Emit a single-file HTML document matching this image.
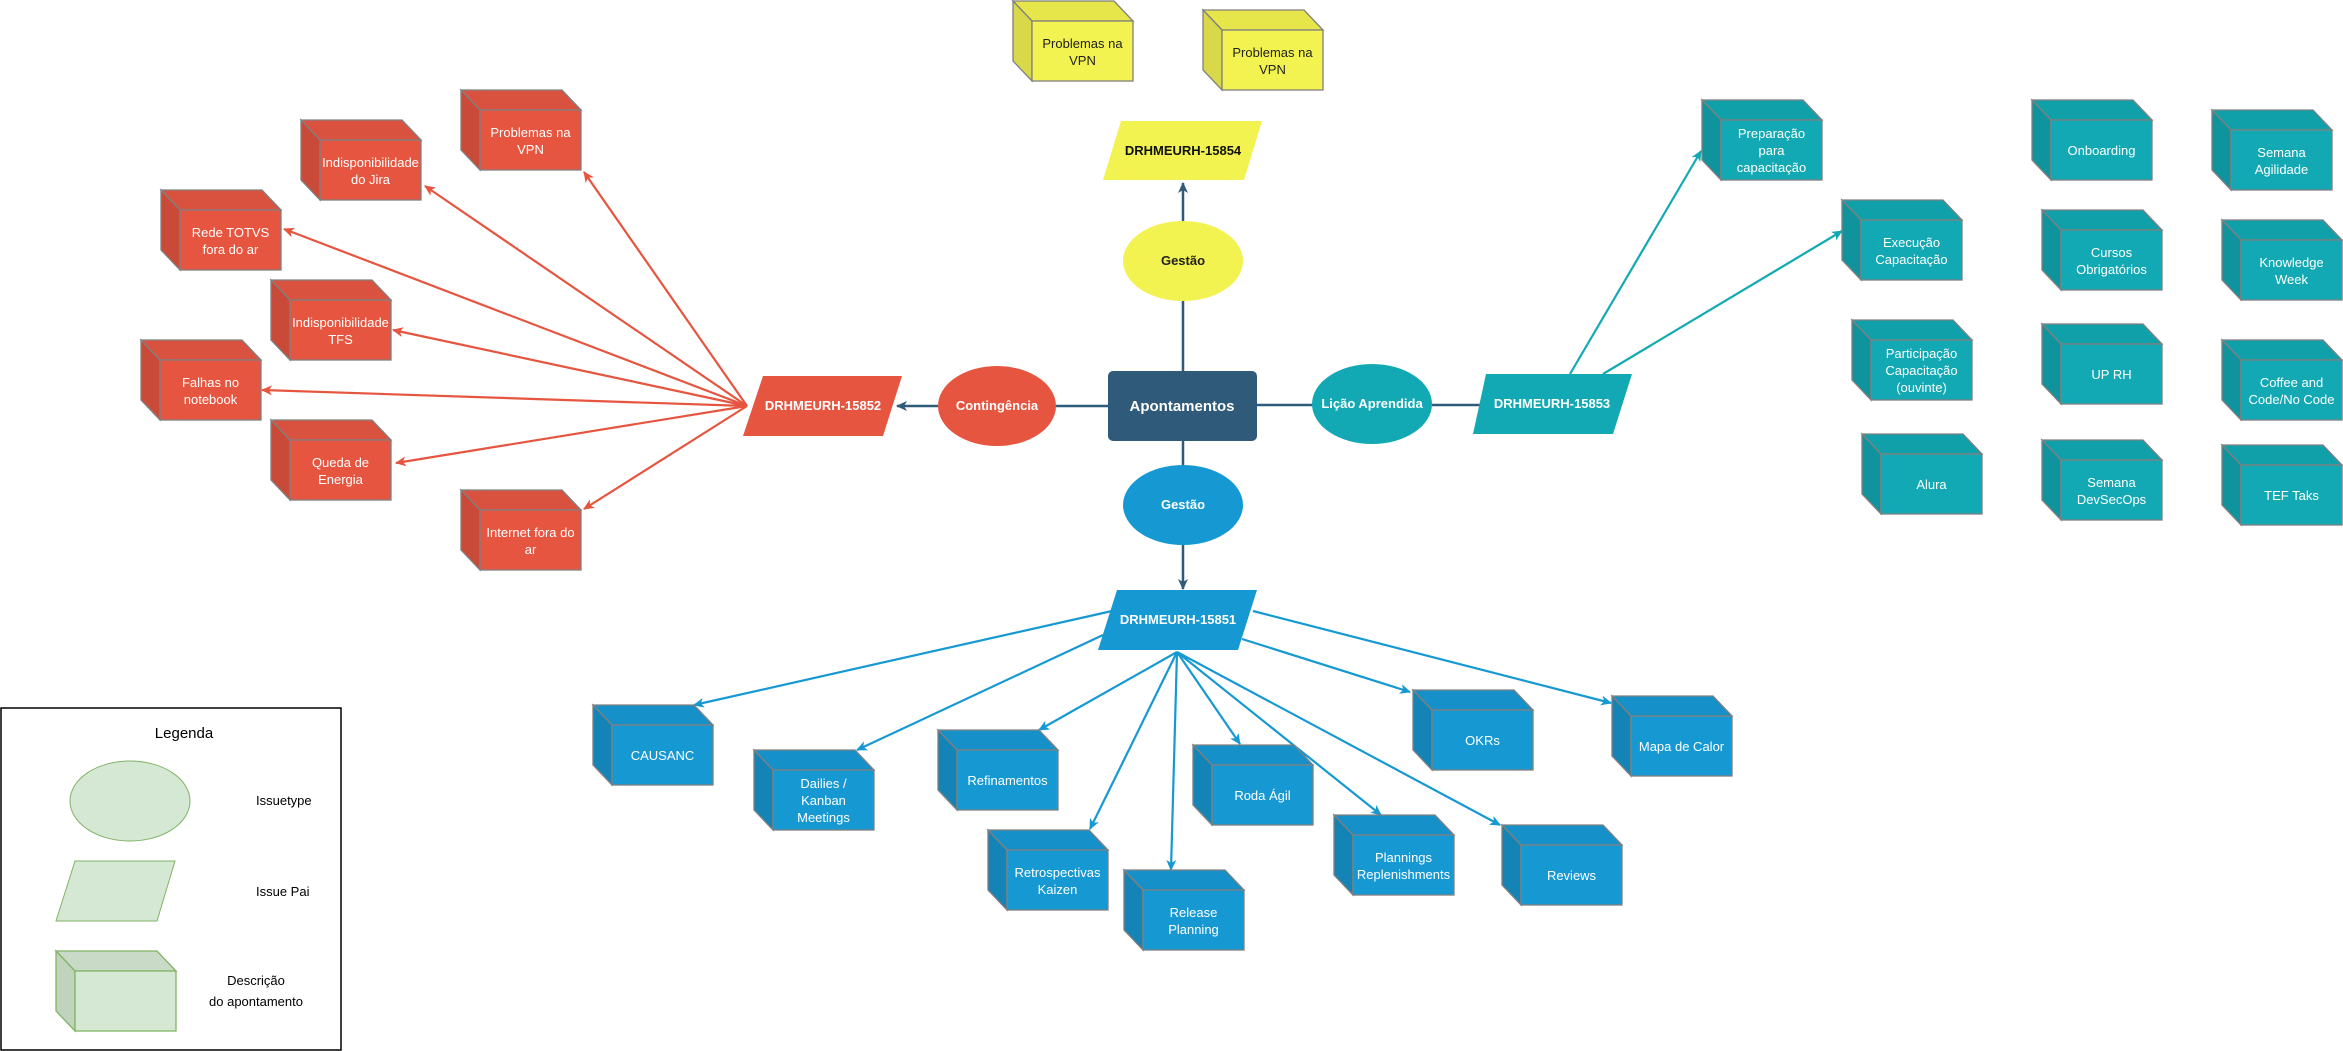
<!DOCTYPE html>
<html><head><meta charset="utf-8"><style>
html,body{margin:0;padding:0;background:#fff;}
svg{display:block;font-family:"Liberation Sans",Arial,sans-serif;}
.r .t{fill:#d9523f}.r .s{fill:#c94a39}.r .f{fill:#e6553f}
.tl .t{fill:#10a0a9}.tl .s{fill:#0f939c}.tl .f{fill:#12a9b4}
.b .t{fill:#1590c8}.b .s{fill:#1484b7}.b .f{fill:#1699d3}
.y .t{fill:#e6e64a}.y .s{fill:#d8d84a}.y .f{fill:#f2f250}
.g .t{fill:#c9dbc7}.g .s{fill:#bfd3bd}.g .f{fill:#d5e8d4}
.c polygon,.c rect{stroke:#808080;stroke-width:1.3}
.g polygon,.g rect{stroke:#82b366}
.c text{font-size:13px;fill:#fff;text-anchor:middle}
.y text{fill:#222}
.g text{fill:#000}
</style></head><body>
<svg width="2343" height="1051" viewBox="0 0 2343 1051" xmlns="http://www.w3.org/2000/svg">
<defs>
<symbol id="cube" overflow="visible"></symbol>
<marker id="ar" markerWidth="12" markerHeight="10" refX="10" refY="5" orient="auto" markerUnits="userSpaceOnUse"><path d="M0,0 L11,5 L0,10 L3,5 z" fill="#e6553f"/></marker>
<marker id="at" markerWidth="12" markerHeight="10" refX="10" refY="5" orient="auto" markerUnits="userSpaceOnUse"><path d="M0,0 L11,5 L0,10 L3,5 z" fill="#12a9b4"/></marker>
<marker id="ab" markerWidth="12" markerHeight="10" refX="10" refY="5" orient="auto" markerUnits="userSpaceOnUse"><path d="M0,0 L11,5 L0,10 L3,5 z" fill="#1699d3"/></marker>
<marker id="ad" markerWidth="12" markerHeight="10" refX="10" refY="5" orient="auto" markerUnits="userSpaceOnUse"><path d="M0,0 L11,5 L0,10 L3,5 z" fill="#2f5a7a"/></marker>
</defs>

<!-- dark connectors -->
<g stroke="#2f5a7a" stroke-width="2.5" fill="none">
<line x1="1183" y1="221" x2="1183" y2="183" marker-end="url(#ad)"/>
<line x1="1183" y1="300" x2="1183" y2="371"/>
<line x1="1108" y1="406" x2="1056" y2="406"/>
<line x1="938" y1="406" x2="897" y2="406" marker-end="url(#ad)"/>
<line x1="1257" y1="405" x2="1313" y2="405"/>
<line x1="1432" y1="405" x2="1480" y2="405"/>
<line x1="1183" y1="441" x2="1183" y2="465"/>
<line x1="1183" y1="544" x2="1183" y2="589" marker-end="url(#ad)"/>
</g>

<!-- red connectors -->
<g stroke="#e6553f" stroke-width="2.2" fill="none">
<line x1="747" y1="406" x2="584" y2="172" marker-end="url(#ar)"/>
<line x1="747" y1="406" x2="425" y2="186" marker-end="url(#ar)"/>
<line x1="747" y1="406" x2="284" y2="229" marker-end="url(#ar)"/>
<line x1="747" y1="406" x2="393" y2="330" marker-end="url(#ar)"/>
<line x1="747" y1="406" x2="262" y2="390" marker-end="url(#ar)"/>
<line x1="747" y1="406" x2="396" y2="463" marker-end="url(#ar)"/>
<line x1="747" y1="406" x2="584" y2="509" marker-end="url(#ar)"/>
</g>
<!-- teal connectors -->
<g stroke="#12a9b4" stroke-width="2.2" fill="none">
<line x1="1570" y1="374" x2="1701" y2="151" marker-end="url(#at)"/>
<line x1="1603" y1="374" x2="1842" y2="231" marker-end="url(#at)"/>
</g>
<!-- blue connectors -->
<g stroke="#1699d3" stroke-width="2.2" fill="none">
<line x1="1112" y1="611" x2="694" y2="705" marker-end="url(#ab)"/>
<line x1="1103" y1="635" x2="857" y2="750" marker-end="url(#ab)"/>
<line x1="1177" y1="652" x2="1039" y2="730" marker-end="url(#ab)"/>
<line x1="1177" y1="652" x2="1090" y2="829" marker-end="url(#ab)"/>
<line x1="1177" y1="652" x2="1171" y2="870" marker-end="url(#ab)"/>
<line x1="1177" y1="652" x2="1240" y2="744" marker-end="url(#ab)"/>
<line x1="1177" y1="652" x2="1381" y2="815" marker-end="url(#ab)"/>
<line x1="1177" y1="652" x2="1500" y2="825" marker-end="url(#ab)"/>
<line x1="1242" y1="639" x2="1410" y2="692" marker-end="url(#ab)"/>
<line x1="1253" y1="611" x2="1611" y2="703" marker-end="url(#ab)"/>
</g>

<!-- central nodes -->
<rect x="1108" y="371" width="149" height="70" rx="5" fill="#2f5a7a"/>
<text x="1182" y="411" font-size="15" font-weight="bold" fill="#fff" text-anchor="middle">Apontamentos</text>
<ellipse cx="1183" cy="261" rx="60" ry="40" fill="#f2f250"/>
<text x="1183" y="265" font-size="13" font-weight="bold" fill="#222" text-anchor="middle">Gestão</text>
<ellipse cx="1183" cy="505" rx="60" ry="40" fill="#1699d3"/>
<text x="1183" y="509" font-size="13" font-weight="bold" fill="#fff" text-anchor="middle">Gestão</text>
<ellipse cx="997" cy="406" rx="59" ry="40" fill="#e6553f"/>
<text x="997" y="410" font-size="13" font-weight="bold" fill="#fff" text-anchor="middle">Contingência</text>
<ellipse cx="1372" cy="404" rx="60" ry="40" fill="#12a9b4"/>
<text x="1372" y="408" font-size="13" font-weight="bold" fill="#fff" text-anchor="middle">Lição Aprendida</text>

<polygon points="1121,121 1262,121 1244,180 1103,180" fill="#f2f250"/>
<text x="1183" y="155" font-size="13" font-weight="bold" fill="#111" text-anchor="middle">DRHMEURH-15854</text>
<polygon points="763,376 902,376 883,436 743,436" fill="#e6553f"/>
<text x="823" y="410" font-size="13" font-weight="bold" fill="#fff" text-anchor="middle">DRHMEURH-15852</text>
<polygon points="1486,374 1632,374 1613,434 1473,434" fill="#12a9b4"/>
<text x="1552" y="408" font-size="13" font-weight="bold" fill="#fff" text-anchor="middle">DRHMEURH-15853</text>
<polygon points="1117,590 1257,590 1238,650 1098,650" fill="#1699d3"/>
<text x="1178" y="624" font-size="13" font-weight="bold" fill="#fff" text-anchor="middle">DRHMEURH-15851</text>

<!-- cubes: local shape (0,0)-(120,80), depth 19x20 -->
<!-- yellow -->
<g class="c y" transform="translate(1013,1)"><polygon class="t" points="0,0 101,0 120,20 19,20"/><polygon class="s" points="0,0 19,20 19,80 0,60"/><rect class="f" x="19" y="20" width="101" height="60"/><text x="69.5" y="47">Problemas na</text><text x="69.5" y="64">VPN</text></g>
<g class="c y" transform="translate(1203,10)"><polygon class="t" points="0,0 101,0 120,20 19,20"/><polygon class="s" points="0,0 19,20 19,80 0,60"/><rect class="f" x="19" y="20" width="101" height="60"/><text x="69.5" y="47">Problemas na</text><text x="69.5" y="64">VPN</text></g>

<!-- red -->
<g class="c r" transform="translate(461,90)"><polygon class="t" points="0,0 101,0 120,20 19,20"/><polygon class="s" points="0,0 19,20 19,80 0,60"/><rect class="f" x="19" y="20" width="101" height="60"/><text x="69.5" y="47">Problemas na</text><text x="69.5" y="64">VPN</text></g>
<g class="c r" transform="translate(301,120)"><polygon class="t" points="0,0 101,0 120,20 19,20"/><polygon class="s" points="0,0 19,20 19,80 0,60"/><rect class="f" x="19" y="20" width="101" height="60"/><text x="69.5" y="47">Indisponibilidade</text><text x="69.5" y="64">do Jira</text></g>
<g class="c r" transform="translate(161,190)"><polygon class="t" points="0,0 101,0 120,20 19,20"/><polygon class="s" points="0,0 19,20 19,80 0,60"/><rect class="f" x="19" y="20" width="101" height="60"/><text x="69.5" y="47">Rede TOTVS</text><text x="69.5" y="64">fora do ar</text></g>
<g class="c r" transform="translate(271,280)"><polygon class="t" points="0,0 101,0 120,20 19,20"/><polygon class="s" points="0,0 19,20 19,80 0,60"/><rect class="f" x="19" y="20" width="101" height="60"/><text x="69.5" y="47">Indisponibilidade</text><text x="69.5" y="64">TFS</text></g>
<g class="c r" transform="translate(141,340)"><polygon class="t" points="0,0 101,0 120,20 19,20"/><polygon class="s" points="0,0 19,20 19,80 0,60"/><rect class="f" x="19" y="20" width="101" height="60"/><text x="69.5" y="47">Falhas no</text><text x="69.5" y="64">notebook</text></g>
<g class="c r" transform="translate(271,420)"><polygon class="t" points="0,0 101,0 120,20 19,20"/><polygon class="s" points="0,0 19,20 19,80 0,60"/><rect class="f" x="19" y="20" width="101" height="60"/><text x="69.5" y="47">Queda de</text><text x="69.5" y="64">Energia</text></g>
<g class="c r" transform="translate(461,490)"><polygon class="t" points="0,0 101,0 120,20 19,20"/><polygon class="s" points="0,0 19,20 19,80 0,60"/><rect class="f" x="19" y="20" width="101" height="60"/><text x="69.5" y="47">Internet fora do</text><text x="69.5" y="64">ar</text></g>

<!-- teal -->
<g class="c tl" transform="translate(1702,100)"><polygon class="t" points="0,0 101,0 120,20 19,20"/><polygon class="s" points="0,0 19,20 19,80 0,60"/><rect class="f" x="19" y="20" width="101" height="60"/><text x="69.5" y="38">Preparação</text><text x="69.5" y="55">para</text><text x="69.5" y="72">capacitação</text></g>
<g class="c tl" transform="translate(1842,200)"><polygon class="t" points="0,0 101,0 120,20 19,20"/><polygon class="s" points="0,0 19,20 19,80 0,60"/><rect class="f" x="19" y="20" width="101" height="60"/><text x="69.5" y="47">Execução</text><text x="69.5" y="64">Capacitação</text></g>
<g class="c tl" transform="translate(1852,320)"><polygon class="t" points="0,0 101,0 120,20 19,20"/><polygon class="s" points="0,0 19,20 19,80 0,60"/><rect class="f" x="19" y="20" width="101" height="60"/><text x="69.5" y="38">Participação</text><text x="69.5" y="55">Capacitação</text><text x="69.5" y="72">(ouvinte)</text></g>
<g class="c tl" transform="translate(1862,434)"><polygon class="t" points="0,0 101,0 120,20 19,20"/><polygon class="s" points="0,0 19,20 19,80 0,60"/><rect class="f" x="19" y="20" width="101" height="60"/><text x="69.5" y="55">Alura</text></g>
<g class="c tl" transform="translate(2032,100)"><polygon class="t" points="0,0 101,0 120,20 19,20"/><polygon class="s" points="0,0 19,20 19,80 0,60"/><rect class="f" x="19" y="20" width="101" height="60"/><text x="69.5" y="55">Onboarding</text></g>
<g class="c tl" transform="translate(2042,210)"><polygon class="t" points="0,0 101,0 120,20 19,20"/><polygon class="s" points="0,0 19,20 19,80 0,60"/><rect class="f" x="19" y="20" width="101" height="60"/><text x="69.5" y="47">Cursos</text><text x="69.5" y="64">Obrigatórios</text></g>
<g class="c tl" transform="translate(2042,324)"><polygon class="t" points="0,0 101,0 120,20 19,20"/><polygon class="s" points="0,0 19,20 19,80 0,60"/><rect class="f" x="19" y="20" width="101" height="60"/><text x="69.5" y="55">UP RH</text></g>
<g class="c tl" transform="translate(2042,440)"><polygon class="t" points="0,0 101,0 120,20 19,20"/><polygon class="s" points="0,0 19,20 19,80 0,60"/><rect class="f" x="19" y="20" width="101" height="60"/><text x="69.5" y="47">Semana</text><text x="69.5" y="64">DevSecOps</text></g>
<g class="c tl" transform="translate(2212,110)"><polygon class="t" points="0,0 101,0 120,20 19,20"/><polygon class="s" points="0,0 19,20 19,80 0,60"/><rect class="f" x="19" y="20" width="101" height="60"/><text x="69.5" y="47">Semana</text><text x="69.5" y="64">Agilidade</text></g>
<g class="c tl" transform="translate(2222,220)"><polygon class="t" points="0,0 101,0 120,20 19,20"/><polygon class="s" points="0,0 19,20 19,80 0,60"/><rect class="f" x="19" y="20" width="101" height="60"/><text x="69.5" y="47">Knowledge</text><text x="69.5" y="64">Week</text></g>
<g class="c tl" transform="translate(2222,340)"><polygon class="t" points="0,0 101,0 120,20 19,20"/><polygon class="s" points="0,0 19,20 19,80 0,60"/><rect class="f" x="19" y="20" width="101" height="60"/><text x="69.5" y="47">Coffee and</text><text x="69.5" y="64">Code/No Code</text></g>
<g class="c tl" transform="translate(2222,445)"><polygon class="t" points="0,0 101,0 120,20 19,20"/><polygon class="s" points="0,0 19,20 19,80 0,60"/><rect class="f" x="19" y="20" width="101" height="60"/><text x="69.5" y="55">TEF Taks</text></g>

<!-- blue -->
<g class="c b" transform="translate(593,705)"><polygon class="t" points="0,0 101,0 120,20 19,20"/><polygon class="s" points="0,0 19,20 19,80 0,60"/><rect class="f" x="19" y="20" width="101" height="60"/><text x="69.5" y="55">CAUSANC</text></g>
<g class="c b" transform="translate(754,750)"><polygon class="t" points="0,0 101,0 120,20 19,20"/><polygon class="s" points="0,0 19,20 19,80 0,60"/><rect class="f" x="19" y="20" width="101" height="60"/><text x="69.5" y="38">Dailies /</text><text x="69.5" y="55">Kanban</text><text x="69.5" y="72">Meetings</text></g>
<g class="c b" transform="translate(938,730)"><polygon class="t" points="0,0 101,0 120,20 19,20"/><polygon class="s" points="0,0 19,20 19,80 0,60"/><rect class="f" x="19" y="20" width="101" height="60"/><text x="69.5" y="55">Refinamentos</text></g>
<g class="c b" transform="translate(988,830)"><polygon class="t" points="0,0 101,0 120,20 19,20"/><polygon class="s" points="0,0 19,20 19,80 0,60"/><rect class="f" x="19" y="20" width="101" height="60"/><text x="69.5" y="47">Retrospectivas</text><text x="69.5" y="64">Kaizen</text></g>
<g class="c b" transform="translate(1124,870)"><polygon class="t" points="0,0 101,0 120,20 19,20"/><polygon class="s" points="0,0 19,20 19,80 0,60"/><rect class="f" x="19" y="20" width="101" height="60"/><text x="69.5" y="47">Release</text><text x="69.5" y="64">Planning</text></g>
<g class="c b" transform="translate(1193,745)"><polygon class="t" points="0,0 101,0 120,20 19,20"/><polygon class="s" points="0,0 19,20 19,80 0,60"/><rect class="f" x="19" y="20" width="101" height="60"/><text x="69.5" y="55">Roda Ágil</text></g>
<g class="c b" transform="translate(1334,815)"><polygon class="t" points="0,0 101,0 120,20 19,20"/><polygon class="s" points="0,0 19,20 19,80 0,60"/><rect class="f" x="19" y="20" width="101" height="60"/><text x="69.5" y="47">Plannings</text><text x="69.5" y="64">Replenishments</text></g>
<g class="c b" transform="translate(1502,825)"><polygon class="t" points="0,0 101,0 120,20 19,20"/><polygon class="s" points="0,0 19,20 19,80 0,60"/><rect class="f" x="19" y="20" width="101" height="60"/><text x="69.5" y="55">Reviews</text></g>
<g class="c b" transform="translate(1413,690)"><polygon class="t" points="0,0 101,0 120,20 19,20"/><polygon class="s" points="0,0 19,20 19,80 0,60"/><rect class="f" x="19" y="20" width="101" height="60"/><text x="69.5" y="55">OKRs</text></g>
<g class="c b" transform="translate(1612,696)"><polygon class="t" points="0,0 101,0 120,20 19,20"/><polygon class="s" points="0,0 19,20 19,80 0,60"/><rect class="f" x="19" y="20" width="101" height="60"/><text x="69.5" y="55">Mapa de Calor</text></g>

<!-- legend -->
<rect x="1" y="708" width="340" height="342" fill="#fff" stroke="#000" stroke-width="1.5"/>
<text x="184" y="738" font-size="15" text-anchor="middle">Legenda</text>
<ellipse cx="130" cy="801" rx="60" ry="40" fill="#d5e8d4" stroke="#82b366"/>
<text x="256" y="805" font-size="13">Issuetype</text>
<polygon points="75,861 175,861 157,921 56,921" fill="#d5e8d4" stroke="#82b366"/>
<text x="256" y="896" font-size="13">Issue Pai</text>
<g class="c g" transform="translate(56,951)"><polygon class="t" points="0,0 101,0 120,20 19,20"/><polygon class="s" points="0,0 19,20 19,80 0,60"/><rect class="f" x="19" y="20" width="101" height="60"/></g>
<text x="256" y="985" font-size="13" text-anchor="middle">Descrição</text>
<text x="256" y="1006" font-size="13" text-anchor="middle">do apontamento</text>
</svg>
</body></html>
